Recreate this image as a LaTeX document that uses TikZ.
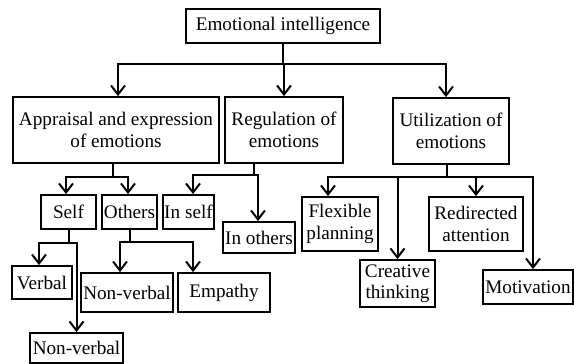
\documentclass[tikz,border=0pt]{standalone}
\usepackage{fontspec}
\setmainfont{Liberation Serif}
\usetikzlibrary{arrows.meta}
\begin{document}
\begin{tikzpicture}[x=1pt,y=-1pt,
  box/.style={draw,line width=1.8pt,inner sep=0pt,align=center,
    font=\fontsize{19.2}{21.5}\selectfont},
  conn/.style={line width=2pt},
  arr/.style={conn,-{Straight Barb[length=9pt,width=14pt]}}]
\useasboundingbox (0,0) rectangle (574,364);
% nodes
\node[box,minimum width=194pt,minimum height=34pt] (ei) at (283,26) {Emotional intelligence};
\node[box,minimum width=206pt,minimum height=66pt] (app) at (116,130) {Appraisal and expression\\of emotions};
\node[box,minimum width=118pt,minimum height=66pt] (reg) at (284,130) {Regulation of\\emotions};
\node[box,minimum width=116pt,minimum height=66pt] (util) at (451,131) {Utilization of\\emotions};
\node[box,minimum width=55pt,minimum height=34pt] (self) at (68.5,212) {Self};
\node[box,minimum width=55pt,minimum height=34pt] (oth) at (129.5,212) {Others};
\node[box,minimum width=51pt,minimum height=34pt] (inself) at (188.5,212) {In self};
\node[box,minimum width=72pt,minimum height=31pt] (inoth) at (259,237.5) {In others};
\node[box,minimum width=60pt,minimum height=33pt] (verbal) at (42,282.5) {Verbal};
\node[box,minimum width=93pt,minimum height=30pt] (nvb) at (76.5,348) {Non-verbal};
\node[box,minimum width=92pt,minimum height=39pt] (nvm) at (127,292.5) {Non-verbal};
\node[box,minimum width=92pt,minimum height=39pt] (emp) at (224,292.5) {Empathy};
\node[box,minimum width=76pt,minimum height=54pt] (flex) at (340,224) {Flexible\\planning};
\node[box,minimum width=94pt,minimum height=54pt] (redir) at (476,224) {Redirected\\attention};
\node[box,minimum width=75pt,minimum height=47pt] (creat) at (397.5,283.5) {Creative\\thinking};
\node[box,minimum width=90pt,minimum height=34pt] (motiv) at (528,287) {Motivation};
% junction levels
\coordinate (h0) at (0,64);
\coordinate (h1) at (0,177);
\coordinate (h2) at (0,175);
\coordinate (h3) at (0,177);
\coordinate (h4) at (0,243);
\coordinate (h5) at (0,242);
% top level
\coordinate (j0) at (ei.south |- h0);
\draw[conn] (ei.south) -- (j0);
\draw[arr] (j0) -| ([xshift=2pt]app.north);
\draw[arr] (j0) -| (reg.north);
\draw[arr] (j0) -| ([xshift=-5pt]util.north);
% appraisal
\coordinate (j1) at ([xshift=-3pt]app.south |- h1);
\draw[conn] ([xshift=-3pt]app.south) -- (j1);
\draw[arr] (j1) -| ([xshift=-2.5pt]self.north);
\draw[arr] (j1) -| ([xshift=-1.5pt]oth.north);
% regulation
\coordinate (j2) at ([xshift=-30pt]reg.south |- h2);
\draw[conn] ([xshift=-30pt]reg.south) -- (j2);
\draw[arr] (j2) -| ([xshift=4.5pt]inself.north);
\draw[arr] (j2) -| ([xshift=-1pt]inoth.north);
% utilization
\coordinate (j3) at ([xshift=-4pt]util.south |- h3);
\draw[conn] ([xshift=-4pt]util.south) -- (j3);
\draw[arr] (j3) -| ([xshift=-12pt]flex.north);
\draw[arr] (j3) -| (creat.north);
\draw[arr] (j3) -| (redir.north);
\draw[arr] (j3) -| ([xshift=5pt]motiv.north);
% self
\coordinate (j4) at (self.south |- h4);
\draw[conn] (self.south) -- (j4);
\draw[arr] (j4) -| ([xshift=-3pt]verbal.north);
\draw[arr] (j4) -| (nvb.north);
% others
\coordinate (j5) at (oth.south |- h5);
\draw[conn] (oth.south) -- (j5);
\draw[arr] (j5) -| ([xshift=-7pt]nvm.north);
\draw[arr] (j5) -| ([xshift=-31pt]emp.north);
\end{tikzpicture}
\end{document}
